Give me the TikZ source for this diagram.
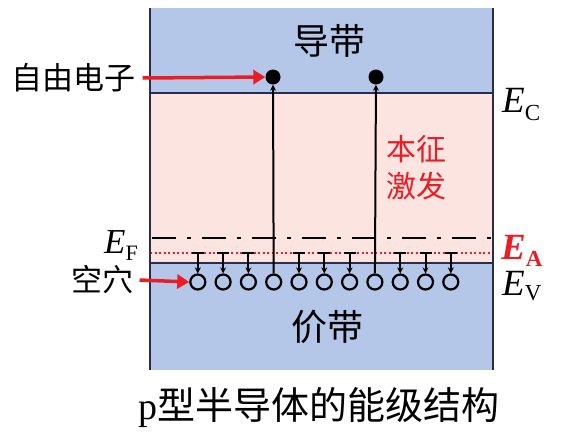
\documentclass[tikz,border=0pt]{standalone}
\usepackage{fontspec}
\newfontfamily\cjk{Noto Sans CJK SC}
\newfontfamily\serif{Liberation Serif}
\usetikzlibrary{arrows.meta}

\definecolor{bandblue}{RGB}{180,199,233}
\definecolor{gappink}{RGB}{252,229,225}
\definecolor{levelred}{RGB}{236,28,36}
\definecolor{linenavy}{RGB}{40,44,80}

\begin{document}
\begin{tikzpicture}
        [x=1pt, y=-1pt, font=\cjk\fontsize{31}{36}\selectfont, >={Stealth[length=6pt, width=6pt]}]

        \useasboundingbox (0, 0) rectangle (563, 437);

        % bands
        \fill[bandblue] (150, 8) rectangle (493, 370);
        \fill[gappink] (150, 93) rectangle (493, 263);

        \coordinate (box_tl) at (150, 8);
        \coordinate (box_bl) at (150, 370);
        \coordinate (box_tr) at (493, 8);
        \coordinate (box_br) at (493, 370);
        \coordinate (ec_left) at (150, 93);
        \coordinate (ec_right) at (493, 93);
        \coordinate (ev_left) at (150, 263);
        \coordinate (ev_right) at (493, 263);
        \coordinate (ef_left) at (150, 238);
        \coordinate (ef_right) at (493, 238);
        \coordinate (ea_left) at (150, 253);
        \coordinate (ea_right) at (493, 253);

        \draw[line width=2.2pt, linenavy] (ec_left) -- (ec_right);
        \draw[line width=2.2pt, linenavy] (ev_left) -- (ev_right);
        \draw[line width=2.4pt, dash pattern=on 24pt off 11pt on 4pt off 11pt, dash phase=-2pt] (ef_left) -- (ef_right);
        \draw[line width=2.2pt, levelred, dash pattern=on 2pt off 2.5pt] (ea_left) -- (ea_right);
        \draw[line width=2.6pt, linenavy] (box_tl) -- (box_bl);
        \draw[line width=2.6pt, linenavy] (box_tr) -- (box_br);

        % labels
        \node[font=\cjk\fontsize{36}{40}\selectfont] (cb_label) at (329, 41) {导带};
        \node[font=\cjk\fontsize{36}{40}\selectfont] (vb_label) at (327, 327) {价带};
        \node[text=levelred, align=left, font=\cjk\fontsize{30}{37}\selectfont] (excite) at (416, 168) {本征\\激发};
        \node[anchor=base west, inner sep=0pt, font=\serif\fontsize{37}{40}\selectfont] (ec) at (502, 112) {\itshape E\raisebox{-8pt}{\upshape\fontsize{23}{23}\selectfont C}};
        \node[anchor=base west, inner sep=0pt, font=\serif\fontsize{37}{40}\selectfont] (ev) at (502, 295) {\itshape E\raisebox{-5pt}{\upshape\fontsize{23}{23}\selectfont V}};
        \node[anchor=base east, inner sep=0pt, font=\serif\fontsize{35}{40}\selectfont] (ef) at (138, 253) {\itshape E\raisebox{-7pt}{\upshape\fontsize{22}{22}\selectfont F}};
        \node[anchor=base west, inner sep=0pt, text=levelred, font=\serif\bfseries\fontsize{37}{40}\selectfont] (ea) at (501, 259) {\itshape E\raisebox{-7pt}{\upshape\fontsize{23}{23}\selectfont A}};
        \node (free_e) at (74, 78) {自由电子};
        \node (hole_label) at (102, 280) {空穴};
        \node[font=\cjk\fontsize{38}{44}\selectfont] (title) at (319, 408) {{\serif p}型半导体的能级结构};

        % electrons and holes
        \node[circle, fill=black, minimum size=15pt, inner sep=0pt] (e1) at (273, 77) {};
        \node[circle, fill=black, minimum size=15pt, inner sep=0pt] (e2) at (376, 77) {};
        \foreach \i in {1,...,11}
            \node[circle, draw=black, line width=2.2pt, minimum size=15pt, inner sep=0pt] (h\i) at (172.5 + 25.3*\i, 282) {};

        \draw[line width=2pt, ->] (h4) -- (e1);
        \draw[line width=2pt, ->] (h8) -- (e2);
        \foreach \i in {1,2,3,5,6,7,9,10,11} {
            \coordinate (acc\i) at (h\i |- ea_left);
            \draw[line width=2pt] (acc\i) ++(-6, 0) -- ++(12, 0);
            \draw[line width=2pt, ->] (acc\i) -- (h\i);
        }

        \draw[line width=3.5pt, levelred, -{Triangle[length=12pt, width=14pt]}] (free_e.east) ++(3, 0) -- (e1.west);
        \draw[line width=3.5pt, levelred, -{Triangle[length=12pt, width=14pt]}] (hole_label.east) ++(3, 0) -- (h1.west);
    \end{tikzpicture}
\end{document}
